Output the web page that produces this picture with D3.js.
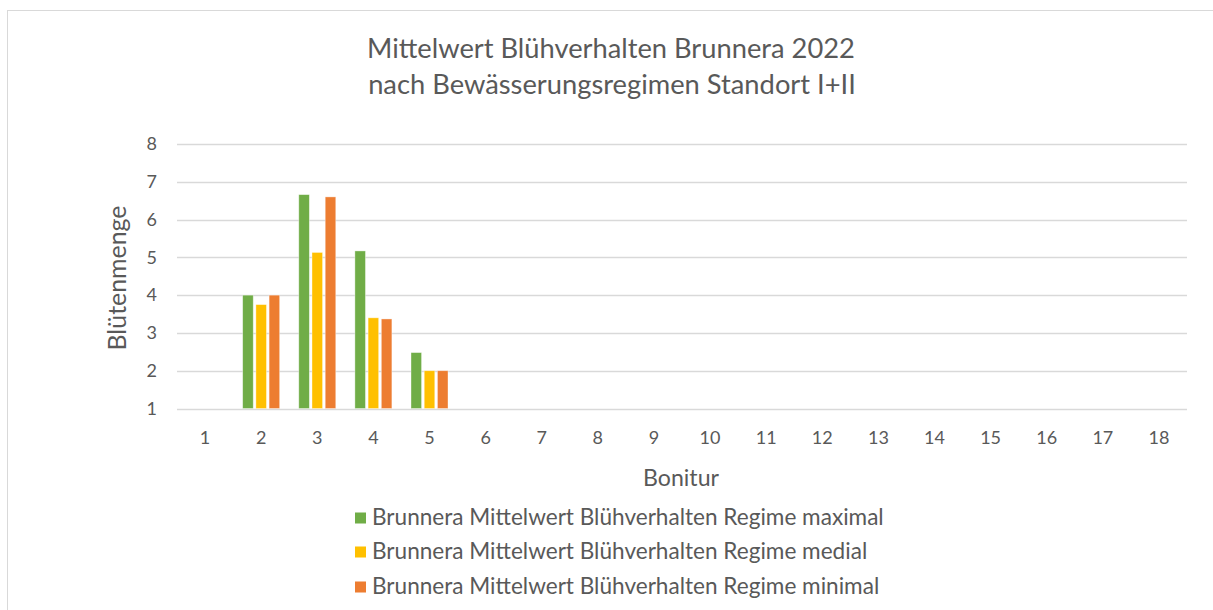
<!DOCTYPE html>
<html><head><meta charset="utf-8">
<script src="https://cdn.jsdelivr.net/npm/d3@7"></script>
<style>html,body{margin:0;padding:0;background:#fff;}svg{display:block;}</style>
</head><body>
<svg id="c" width="1213" height="610"></svg>
<script>
const categories = ["1","2","3","4","5","6","7","8","9","10","11","12","13","14","15","16","17","18"];
const seriesNames = [
  "Brunnera Mittelwert Blühverhalten Regime maximal",
  "Brunnera Mittelwert Blühverhalten Regime medial",
  "Brunnera Mittelwert Blühverhalten Regime minimal"
];
const valuesMaximal = [null, 4.0, 6.66, 5.17, 2.48, null,null,null,null,null,null,null,null,null,null,null,null,null];
const valuesMedial  = [null, 3.75, 5.13, 3.4, 2.0, null,null,null,null,null,null,null,null,null,null,null,null,null];
const valuesMinimal = [null, 4.0, 6.6, 3.37, 2.0, null,null,null,null,null,null,null,null,null,null,null,null,null];
const seriesColors = ["#70AD47", "#FFC000", "#ED7D31"];
const yTicks = [1,2,3,4,5,6,7,8];
const titleLines = ["Mittelwert Blühverhalten Brunnera 2022", "nach Bewässerungsregimen Standort I+II"];
const xTitle = "Bonitur";
const yTitle = "Blütenmenge";

const allSeries = [valuesMaximal, valuesMedial, valuesMinimal];
const FONT = "Lato, 'Open Sans', sans-serif";
const TXT = "#595959";
const svg = d3.select("#c");

// frame
svg.append("rect").attr("x",7.5).attr("y",10.5).attr("width",1240).attr("height",640)
  .attr("fill","#fff").attr("stroke","#d9d9d9").attr("stroke-width",1);

const x = d3.scaleBand().domain(categories).range([177,1187]).padding(0);
const y = d3.scaleLinear().domain([1,8]).range([408.5,144]);

// gridlines
svg.append("g").selectAll("line").data(yTicks).join("line")
  .attr("x1",177).attr("x2",1187).attr("y1",d=>Math.round(y(d))+0.5).attr("y2",d=>Math.round(y(d))+0.5)
  .attr("stroke","#d9d9d9").attr("stroke-width",1.5);

// y axis labels
const yAxis = d3.axisLeft(y).tickValues(yTicks).tickFormat(d3.format("d")).tickSize(0).tickPadding(0);
const gy = svg.append("g").attr("transform","translate(157,0)").call(yAxis);
gy.select(".domain").remove();
gy.selectAll("text").attr("font-family",FONT).attr("font-size",18).attr("fill",TXT);

// x axis labels
const xAxis = d3.axisBottom(x).tickSize(0).tickPadding(0);
const gx = svg.append("g").attr("transform","translate(0,438)").call(xAxis);
gx.select(".domain").remove();
gx.selectAll("text").attr("font-family",FONT).attr("font-size",18).attr("fill",TXT).attr("dy","0.35em");

// bars
const sub = d3.scaleBand().domain(d3.range(3)).range([-18.5,18.5]).paddingInner(0.2);
allSeries.forEach((vals,si)=>{
  svg.append("g").selectAll("rect").data(categories.map((c,i)=>({c,v:vals[i]})).filter(d=>d.v!=null))
    .join("rect")
    .attr("x",d=>x(d.c)+x.bandwidth()/2+sub(si))
    .attr("width",sub.bandwidth())
    .attr("y",d=>y(d.v))
    .attr("height",d=>y(1)-y(d.v))
    .attr("fill",seriesColors[si])
    .attr("stroke","#fff").attr("stroke-opacity",0.5).attr("stroke-width",0.75);
});

function fit(sel, target){
  const w = sel.node().getComputedTextLength();
  const fs = parseFloat(sel.attr("font-size"));
  sel.attr("font-size", fs*target/w);
}

// title
const t1 = svg.append("text").attr("x",611).attr("y",58).attr("text-anchor","middle")
  .attr("font-family",FONT).attr("font-size",20).attr("fill",TXT).text(titleLines[0]);
fit(t1,488);
const t2 = svg.append("text").attr("x",612).attr("y",94).attr("text-anchor","middle")
  .attr("font-family",FONT).attr("font-size",20).attr("fill",TXT).text(titleLines[1]);
fit(t2,488);

// axis titles
const xt = svg.append("text").attr("x",681).attr("y",486).attr("text-anchor","middle")
  .attr("font-family",FONT).attr("font-size",19).attr("fill",TXT).text(xTitle);
fit(xt,76);
const yt = svg.append("text").attr("transform","translate(126,278) rotate(-90)").attr("text-anchor","middle")
  .attr("font-family",FONT).attr("font-size",19).attr("fill",TXT).text(yTitle);
fit(yt,145);

// legend
const legY = [518, 552, 587];
seriesNames.forEach((n,i)=>{
  svg.append("rect").attr("x",355).attr("y",legY[i]-5.5).attr("width",11).attr("height",11).attr("fill",seriesColors[i]);
  const t = svg.append("text").attr("x",372).attr("y",legY[i]+6.5)
    .attr("font-family",FONT).attr("font-size",18).attr("fill",TXT).text(n);
  if(i===0) fit(t,512);
});
const lfs = svg.selectAll("text").filter(function(){return d3.select(this).text()===seriesNames[0];}).attr("font-size");
svg.selectAll("text").filter(function(){return seriesNames.includes(d3.select(this).text());}).attr("font-size",lfs);
</script>
</body></html>
